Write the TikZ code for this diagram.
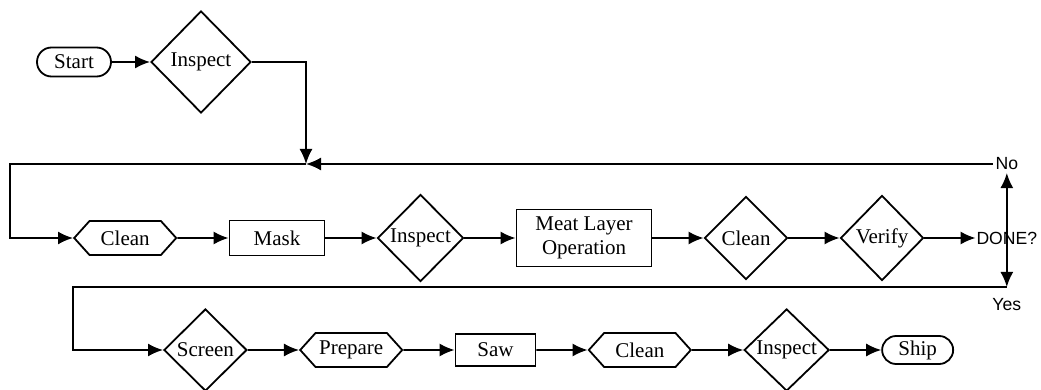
\documentclass[tikz,border=0pt]{standalone}
\usepackage{fontspec}
\setmainfont{Liberation Serif}
\newfontfamily\labelfont{Liberation Sans}
\usetikzlibrary{arrows.meta,positioning,shapes.geometric,shapes.misc,shapes.symbols}

\begin{document}
\begin{tikzpicture}[x=0.5pt, y=-0.5pt, node distance=25.6pt, line width=0.9pt,
  every node/.style={font=\fontsize{10.5}{12}\selectfont},
  >={Latex[length=7.5pt,width=6.5pt]},
  term/.style={draw, rounded rectangle, minimum height=14.5pt, minimum width=39pt, inner sep=1pt},
  decide/.style={draw, diamond, inner sep=0pt},
  proc/.style={draw, rectangle, inner sep=1pt},
  prep/.style={draw, signal, signal to=west and east, signal pointer angle=96, minimum height=17pt, minimum width=51pt, inner sep=1pt},
  lbl/.style={font=\labelfont\fontsize{8.8}{10}\selectfont, inner sep=1pt}]

  \useasboundingbox (0,0) rectangle (1041,390);

  % First row
  \node[term] (start) at (74,62) {Start};
  \node[decide, right=19.1pt of start, minimum width=50pt, minimum height=51pt] (insp1) {Inspect};

  % Second row
  \node[prep, anchor=west] (clean1) at (73,238) {Clean};
  \node[proc, right=of clean1, minimum width=47.5pt, minimum height=17.5pt] (mask) {Mask};
  \node[decide, right=of mask, minimum width=43pt, minimum height=43.5pt] (insp2) {Inspect};
  \node[proc, right=of insp2, minimum width=67.5pt, minimum height=28.5pt, align=center] (meat) {Meat Layer\\Operation};
  \node[decide, right=of meat, minimum width=41.5pt, minimum height=41.5pt] (clean2) {Clean};
  \node[decide, right=of clean2, minimum width=41.5pt, minimum height=42.5pt] (verify) {Verify};
  \node[lbl, right=of verify, inner sep=0pt] (done) {DONE?};

  % Third row
  \node[decide, anchor=west, minimum width=41.5pt, minimum height=41pt] (screen) at (163,350) {Screen};
  \node[prep, right=of screen] (prepare) {Prepare};
  \node[proc, right=of prepare, minimum width=40pt, minimum height=16pt] (saw) {Saw};
  \node[prep, right=of saw] (clean3) {Clean};
  \node[decide, right=of clean3, minimum width=42.5pt, minimum height=41pt] (insp3) {Inspect};
  \node[term, right=of insp3, minimum width=37.5pt, minimum height=14pt] (ship) {Ship};

  % Loop corners and answers
  \coordinate (join) at (306,164);
  \coordinate (loopL) at (10,164);
  \path (done.center) ++(0,49) coordinate (retR);
  \coordinate (botL) at (73,287);
  \node[lbl] (no) at (done.center |- join) {No};
  \node[lbl, below=4pt of retR] (yes) {Yes};

  % Connectors
  \draw[->] (start) -- (insp1);
  \draw[->] (insp1.east) -| (join);
  \draw[->] (no.west) -- (join);
  \draw[->] (join) -- (loopL) |- (clean1.west);
  \draw[->] (clean1) -- (mask);
  \draw[->] (mask) -- (insp2);
  \draw[->] (insp2) -- (meat);
  \draw[->] (meat) -- (clean2);
  \draw[->] (clean2) -- (verify);
  \draw[->] (verify) -- (done);
  \draw[->] (done.center) -- (no.south);
  \draw[->] (done.center) -- (retR);
  \draw[->] (retR) -- (botL) |- (screen.west);
  \draw[->] (screen) -- (prepare);
  \draw[->] (prepare) -- (saw);
  \draw[->] (saw) -- (clean3);
  \draw[->] (clean3) -- (insp3);
  \draw[->] (insp3) -- (ship);

\end{tikzpicture}
\end{document}
